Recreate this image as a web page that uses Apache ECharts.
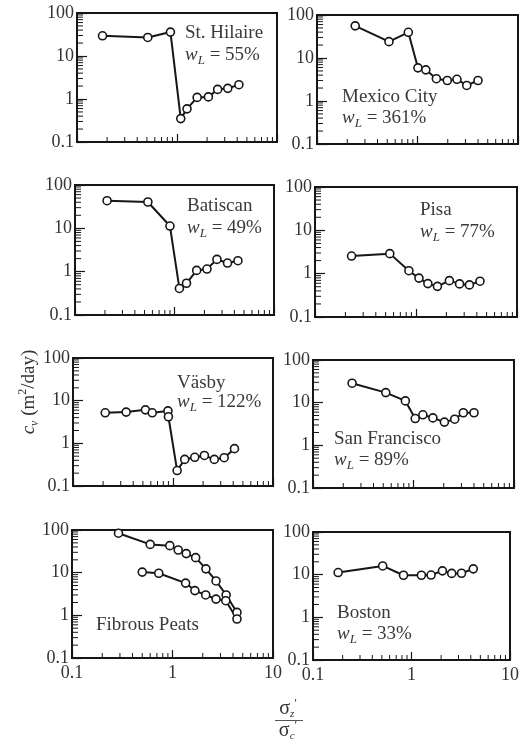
<!DOCTYPE html>
<html><head><meta charset="utf-8">
<script src="https://cdn.jsdelivr.net/npm/echarts@6/dist/echarts.min.js"></script>
<style>html,body{margin:0;padding:0;background:#fff}#c{width:522px;height:740px}</style>
</head><body><div id="c"></div>
<script>
// ---- axis ticks ----
const xTicks = [0.1, 1, 10];
const yTicks = [0.1, 1, 10, 100];
const minorX = [0.2,0.3,0.4,0.5,0.6,0.7,0.8,0.9,2,3,4,5,6,7,8,9];
const minorY = [0.2,0.3,0.4,0.5,0.6,0.7,0.8,0.9,2,3,4,5,6,7,8,9,20,30,40,50,60,70,80,90];

// ---- data (sigma_z'/sigma_c' , c_v m2/day) ----
const stHilaireX = [0.18, 0.51, 0.86, 1.09, 1.26, 1.59, 2.06, 2.55, 3.22, 4.16];
const stHilaireY = [29.5, 27, 36, 0.35, 0.59, 1.09, 1.12, 1.67, 1.77, 2.15];

const mexicoX = [0.24, 0.52, 0.81, 1.01, 1.21, 1.54, 1.98, 2.47, 3.09, 4.0];
const mexicoY = [56, 24, 39.6, 5.9, 5.3, 3.3, 3.0, 3.2, 2.3, 3.0];

const batiscanX = [0.21, 0.54, 0.90, 1.12, 1.32, 1.67, 2.12, 2.67, 3.41, 4.34];
const batiscanY = [43.4, 40.5, 11.3, 0.41, 0.54, 1.07, 1.15, 1.92, 1.58, 1.79];

const pisaX = [0.23, 0.55, 0.85, 1.07, 1.31, 1.63, 2.14, 2.7, 3.38, 4.3];
const pisaY = [2.55, 2.9, 1.17, 0.79, 0.59, 0.51, 0.69, 0.58, 0.55, 0.67];

const vasbyX = [0.21, 0.34, 0.53, 0.62, 0.89, 0.90, 1.10, 1.31, 1.65, 2.06, 2.59, 3.25, 4.12];
const vasbyY = [5.2, 5.4, 6.1, 5.2, 5.75, 4.2, 0.23, 0.42, 0.47, 0.52, 0.42, 0.46, 0.75];

const sanFranciscoX = [0.245, 0.53, 0.83, 1.04, 1.24, 1.56, 2.03, 2.57, 3.13, 4.0];
const sanFranciscoY = [28.6, 17.2, 11.0, 4.25, 5.2, 4.4, 3.5, 4.1, 5.8, 5.8];

const peatUpperX = [0.29, 0.60, 0.94, 1.14, 1.37, 1.70, 2.15, 2.71, 3.42, 4.38];
const peatUpperY = [84, 46, 43, 34, 28, 22.5, 12.3, 6.4, 3.0, 1.17];
const peatLowerX = [0.50, 0.73, 1.35, 1.67, 2.14, 2.71, 3.39, 4.38];
const peatLowerY = [10.3, 9.7, 5.7, 3.8, 3.0, 2.4, 2.2, 0.82];

const bostonX = [0.18, 0.51, 0.83, 1.26, 1.58, 2.06, 2.56, 3.22, 4.24];
const bostonY = [11.2, 16, 9.7, 9.7, 9.8, 12.3, 10.7, 10.8, 13.7];

// ---- panel texts ----
const panelNames = ['St. Hilaire', 'Mexico City', 'Batiscan', 'Pisa', 'V\u00e4sby', 'San Francisco', 'Fibrous Peats', 'Boston'];
const liquidLimits = ['55%', '361%', '49%', '77%', '122%', '89%', null, '33%'];

// ---- build ----
const panelSeries = [
  [[stHilaireX, stHilaireY]],
  [[mexicoX, mexicoY]],
  [[batiscanX, batiscanY]],
  [[pisaX, pisaY]],
  [[vasbyX, vasbyY]],
  [[sanFranciscoX, sanFranciscoY]],
  [[peatUpperX, peatUpperY], [peatLowerX, peatLowerY]],
  [[bostonX, bostonY]]
];

const layout = [
  {left:77, top:13, width:200, height:129},
  {left:317, top:15, width:201, height:129},
  {left:75, top:185, width:199, height:130},
  {left:315, top:187, width:202, height:130},
  {left:73, top:358, width:200, height:128},
  {left:313, top:360, width:201, height:128},
  {left:72, top:530, width:201, height:128},
  {left:313, top:532, width:202, height:128}
];
// label anchor (left x, middle y) for name line and w_L line
const labelPos = [
  [185, 33, 55], [342, 97, 118], [187, 206, 228], [420, 210, 232],
  [177, 383, 402], [334, 439, 460], [96, 625, null], [337, 613, 634]
];

const SERIF = "'Liberation Serif','DejaVu Serif',serif";
const INK = '#161616';
const TXT = '#333';

const grids = [], xAxes = [], yAxes = [], series = [], graphics = [];
layout.forEach((g, i) => {
  grids.push(Object.assign({show:true, borderColor:INK, borderWidth:2, backgroundColor:'transparent'}, g));
  const bottomRow = i >= 6;
  xAxes.push({
    type:'log', logBase:10, min:xTicks[0], max:xTicks[xTicks.length-1], gridIndex:i,
    axisLine:{show:true, lineStyle:{color:INK, width:2}},
    axisTick:{show:true, inside:true, length:8, lineStyle:{color:INK, width:1.2}},
    splitLine:{show:false},
    axisLabel:{show:bottomRow, margin:6, fontSize:18, fontFamily:SERIF, color:TXT,
      showMinLabel:true, showMaxLabel:true,
      formatter: v => String(+(+v).toPrecision(3))}
  });
  yAxes.push({
    type:'log', logBase:10, min:yTicks[0], max:yTicks[yTicks.length-1], gridIndex:i,
    axisLine:{show:true, lineStyle:{color:INK, width:2}},
    axisTick:{show:true, inside:true, length:10, lineStyle:{color:INK, width:1.2}},
    splitLine:{show:false},
    axisLabel:{show:true, margin:3, fontSize:18, fontFamily:SERIF, color:TXT,
      showMinLabel:true, showMaxLabel:true,
      formatter: v => String(+(+v).toPrecision(3))}
  });
  // minor ticks (true log positions)
  series.push({
    type:'custom', xAxisIndex:i, yAxisIndex:i, silent:true, clip:false, z:1,
    data: minorX.map(v => [v, yTicks[0]]),
    renderItem: (p, api) => {
      const c = api.coord([api.value(0), api.value(1)]);
      return {type:'line', shape:{x1:c[0], y1:c[1], x2:c[0], y2:c[1]-5}, style:{stroke:INK, lineWidth:1}};
    }
  });
  series.push({
    type:'custom', xAxisIndex:i, yAxisIndex:i, silent:true, clip:false, z:1,
    data: minorY.map(v => [xTicks[0], v]),
    renderItem: (p, api) => {
      const c = api.coord([api.value(0), api.value(1)]);
      return {type:'line', shape:{x1:c[0], y1:c[1], x2:c[0]+6, y2:c[1]}, style:{stroke:INK, lineWidth:1}};
    }
  });
  panelSeries[i].forEach(([xs, ys]) => {
    series.push({
      type:'line', xAxisIndex:i, yAxisIndex:i, z:3,
      data: xs.map((x, k) => [x, ys[k]]),
      symbol:'circle', symbolSize:8,
      itemStyle:{color:'#fff', borderColor:INK, borderWidth:1.6},
      lineStyle:{color:INK, width:2},
      emphasis:{disabled:true}, animation:false
    });
  });
  // panel labels
  const lp = labelPos[i];
  graphics.push({type:'text', x:lp[0], y:lp[1], z:10,
    style:{text:panelNames[i], fontSize:19, fontFamily:SERIF, fill:'#3a3a3a', align:'left', verticalAlign:'middle'}});
  if (liquidLimits[i]) {
    graphics.push({type:'text', x:lp[0], y:lp[2], z:10,
      style:{text:'{w|w}{s|L}{t| = ' + liquidLimits[i] + '}', align:'left', verticalAlign:'middle', fill:'#3a3a3a',
        rich:{
          w:{fontSize:19, fontStyle:'italic', fontFamily:SERIF, fill:'#3a3a3a', lineHeight:24},
          s:{fontSize:13, fontStyle:'italic', fontFamily:SERIF, fill:'#3a3a3a', lineHeight:13, verticalAlign:'bottom'},
          t:{fontSize:19, fontFamily:SERIF, fill:'#3a3a3a', lineHeight:24}
        }}});
  }
});

// y axis title
graphics.push({type:'text', x:29, y:392, rotation:Math.PI/2, z:10,
  style:{text:'{c|c}{v|v}{n| (m}{p|2}{n|/day)}', align:'center', verticalAlign:'middle', fill:TXT,
    rich:{
      c:{fontSize:19, fontStyle:'italic', fontFamily:SERIF, fill:TXT, lineHeight:24},
      v:{fontSize:12, fontStyle:'italic', fontFamily:SERIF, fill:TXT, lineHeight:12, verticalAlign:'bottom'},
      n:{fontSize:19, fontFamily:SERIF, fill:TXT, lineHeight:24},
      p:{fontSize:12, fontFamily:SERIF, fill:TXT, lineHeight:12, verticalAlign:'top'}
    }}});
// x axis title (fraction)
const fracRich = {
  s:{fontSize:20, fontFamily:SERIF, fill:TXT, lineHeight:22},
  z:{fontSize:11, fontStyle:'italic', fontFamily:SERIF, fill:TXT, lineHeight:11, verticalAlign:'bottom'},
  p:{fontSize:12, fontFamily:SERIF, fill:TXT, lineHeight:11, verticalAlign:'top'}
};
graphics.push({type:'text', x:288, y:709, z:10,
  style:{text:'{s|\u03c3}{z|z}{p|\u2032}', align:'center', verticalAlign:'middle', rich:fracRich}});
graphics.push({type:'line', z:10, shape:{x1:275, y1:720.5, x2:303, y2:720.5}, style:{stroke:'#555', lineWidth:1}});
graphics.push({type:'text', x:288, y:731, z:10,
  style:{text:'{s|\u03c3}{z|c}{p|\u2032}', align:'center', verticalAlign:'middle', rich:fracRich}});

const chart = echarts.init(document.getElementById('c'), null, {renderer:'canvas'});
chart.setOption({
  animation:false,
  backgroundColor:'#fff',
  grid:grids, xAxis:xAxes, yAxis:yAxes, series:series, graphic:graphics
});
</script></body></html>
